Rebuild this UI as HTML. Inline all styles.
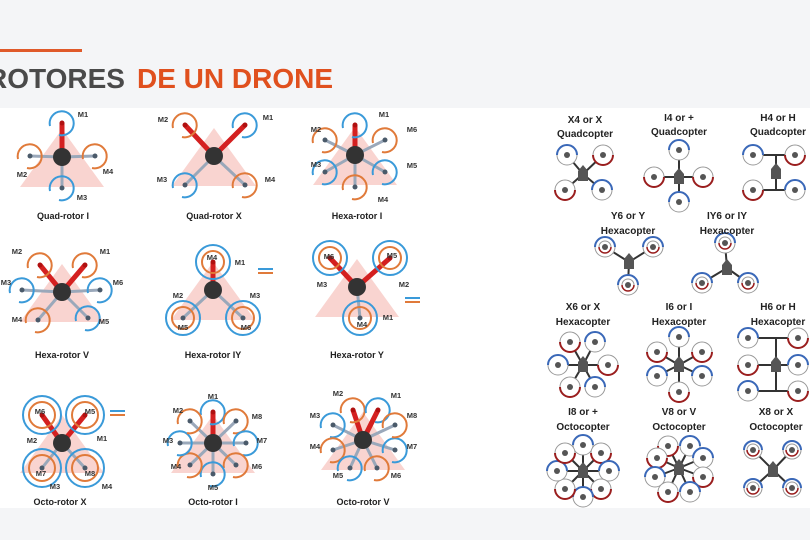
<!DOCTYPE html>
<html><head><meta charset="utf-8"><style>
body{margin:0;width:810px;height:540px;overflow:hidden;background:#fff;font-family:"Liberation Sans",Arial,sans-serif}
svg{display:block}
.lb{font:bold 9px "Liberation Sans",sans-serif;fill:#222;text-anchor:middle}
.m{font:bold 7.5px "Liberation Sans",sans-serif;fill:#333;text-anchor:middle}
.rt{font:bold 10px "Liberation Sans",sans-serif;fill:#222;text-anchor:middle}
</style></head><body>
<svg id="s" width="810" height="540" viewBox="0 0 810 540">
<rect x="0" y="0" width="810" height="108" fill="#f4f5f7"/>
<rect x="0" y="508" width="810" height="32" fill="#f4f5f7"/>
<rect x="0" y="49" width="82" height="3" fill="#e05a2a"/>
<text x="-13" y="88" style="font:bold 28px 'Liberation Sans',sans-serif;fill:#4a4a4a">ROTORES</text>
<text x="137" y="88" style="font:bold 28px 'Liberation Sans',sans-serif;fill:#e0501e">DE UN DRONE</text>
<g id="g"></g>
<text class="lb" x="63" y="219">Quad-rotor I</text>
<text class="lb" x="214" y="219">Quad-rotor X</text>
<text class="lb" x="357" y="219">Hexa-rotor I</text>
<text class="lb" x="62" y="358">Hexa-rotor V</text>
<text class="lb" x="213" y="358">Hexa-rotor IY</text>
<text class="lb" x="357" y="358">Hexa-rotor Y</text>
<text class="lb" x="60" y="505">Octo-rotor X</text>
<text class="lb" x="213" y="505">Octo-rotor I</text>
<text class="lb" x="363" y="505">Octo-rotor V</text>
<g class="m">
<text x="83" y="117">M1</text><text x="22" y="177">M2</text><text x="108" y="174">M4</text><text x="82" y="200">M3</text>
<text x="163" y="122">M2</text><text x="268" y="120">M1</text><text x="162" y="182">M3</text><text x="270" y="182">M4</text>
<text x="384" y="117">M1</text><text x="412" y="132">M6</text><text x="412" y="168">M5</text><text x="383" y="202">M4</text><text x="316" y="167">M3</text><text x="316" y="132">M2</text>
<text x="17" y="254">M2</text><text x="105" y="254">M1</text><text x="118" y="285">M6</text><text x="104" y="324">M5</text><text x="17" y="322">M4</text><text x="6" y="285">M3</text>
<text x="212" y="260">M4</text><text x="240" y="265">M1</text><text x="178" y="298">M2</text><text x="255" y="298">M3</text><text x="183" y="330">M5</text><text x="246" y="330">M6</text>
<text x="329" y="259">M6</text><text x="392" y="258">M5</text><text x="322" y="287">M3</text><text x="404" y="287">M2</text><text x="388" y="320">M1</text><text x="362" y="327">M4</text>
<text x="40" y="414">M6</text><text x="90" y="414">M5</text><text x="32" y="443">M2</text><text x="102" y="441">M1</text><text x="41" y="476">M7</text><text x="90" y="476">M8</text><text x="55" y="489">M3</text><text x="107" y="489">M4</text>
<text x="213" y="399">M1</text><text x="178" y="413">M2</text><text x="257" y="419">M8</text><text x="168" y="443">M3</text><text x="262" y="443">M7</text><text x="176" y="469">M4</text><text x="257" y="469">M6</text><text x="213" y="490">M5</text>
<text x="338" y="396">M2</text><text x="396" y="398">M1</text><text x="315" y="418">M3</text><text x="315" y="449">M4</text><text x="338" y="478">M5</text><text x="396" y="478">M6</text><text x="412" y="449">M7</text><text x="412" y="418">M8</text>
</g>
<g class="rt">
<text x="585" y="123">X4 or X</text><text x="585" y="137">Quadcopter</text>
<text x="679" y="121">I4 or +</text><text x="679" y="135">Quadcopter</text>
<text x="778" y="121">H4 or H</text><text x="778" y="135">Quadcopter</text>
<text x="628" y="219">Y6 or Y</text><text x="628" y="234">Hexacopter</text>
<text x="727" y="219">IY6 or IY</text><text x="727" y="234">Hexacopter</text>
<text x="583" y="310">X6 or X</text><text x="583" y="325">Hexacopter</text>
<text x="679" y="310">I6 or I</text><text x="679" y="325">Hexacopter</text>
<text x="778" y="310">H6 or H</text><text x="778" y="325">Hexacopter</text>
<text x="583" y="415">I8 or +</text><text x="583" y="430">Octocopter</text>
<text x="679" y="415">V8 or V</text><text x="679" y="430">Octocopter</text>
<text x="776" y="415">X8 or X</text><text x="776" y="430">Octocopter</text>
</g>
</svg>
<script>
var g=document.getElementById('g'),h='';
var B='#3a9ad9',O='#e07a3a';
function L(cx,cy,rs,tri){
 h+='<polygon points="'+cx+','+(cy-28)+' '+(cx-42)+','+(cy+30)+' '+(cx+42)+','+(cy+30)+'" fill="#f7c6c0" opacity=".75"/>';
 rs.forEach(function(r){h+='<line x1="'+cx+'" y1="'+cy+'" x2="'+r[0]+'" y2="'+r[1]+'" stroke="'+(r[3]?'#d42020':'#9aa8ba')+'" stroke-width="'+(r[3]?5:3)+'"/>';});
 rs.forEach(function(r){var rr=r[4]||12;
  if(r[2]=='c'){h+='<circle cx="'+r[0]+'" cy="'+r[1]+'" r="'+(rr+5)+'" fill="none" stroke="'+B+'" stroke-width="2"/><circle cx="'+r[0]+'" cy="'+r[1]+'" r="'+(rr-1)+'" fill="none" stroke="'+O+'" stroke-width="2"/>';}
  else h+='<path d="M'+(r[0]-rr)+','+(r[1]+3)+' A'+rr+','+rr+' 0 1 1 '+(r[0]-3)+','+(r[1]+rr)+'" fill="none" stroke="'+r[2]+'" stroke-width="2"/>';
  h+='<circle cx="'+r[0]+'" cy="'+r[1]+'" r="2.5" fill="'+(r[3]?'#b01010':'#4a5a6a')+'"/>';});
 h+='<circle cx="'+cx+'" cy="'+cy+'" r="9" fill="#333"/>';
}
L(62,157,[[62,123,B,1],[30,156,O],[95,156,O],[62,188,B]]);
L(214,156,[[185,125,O,1],[245,125,B,1],[185,185,B],[245,185,O]]);
L(355,155,[[355,125,B,1],[385,140,O],[385,172,B],[355,187,O],[325,172,B],[325,140,O]]);
L(62,292,[[40,265,O,1],[85,265,O,1],[100,290,B],[88,318,B],[38,320,O],[22,290,B]],0);
L(213,290,[[213,262,'c',1],[183,318,'c'],[243,318,'c']]);
L(357,287,[[330,258,'c',1],[390,258,'c',1],[360,318,'c']]);
L(62,443,[[42,415,'c',1,14],[85,415,'c',1,14],[42,468,'c',0,14],[85,468,'c',0,14]]);
var o=[];for(var i=0;i<8;i++){var a=-Math.PI/2+i*Math.PI/4;o.push([Math.round(213+33*Math.cos(a)),Math.round(443+31*Math.sin(a)),i%2?O:B,i==0]);}
L(213,443,o);
L(363,440,[[353,410,O,1],[378,410,B,1],[333,425,B],[333,450,O],[350,468,B],[377,468,O],[395,450,B],[395,425,O]]);
h+='<g stroke-width="2"><line x1="258" y1="269" x2="273" y2="269" stroke="'+B+'"/><line x1="258" y1="273" x2="273" y2="273" stroke="'+O+'"/><line x1="405" y1="298" x2="420" y2="298" stroke="'+B+'"/><line x1="405" y1="302" x2="420" y2="302" stroke="'+O+'"/><line x1="110" y1="411" x2="125" y2="411" stroke="'+B+'"/><line x1="110" y1="415" x2="125" y2="415" stroke="'+O+'"/></g>';
var RB='#3a68b8',RR='#9a1e1e';
function R(cx,cy,rs,lines){
 (lines||rs.map(function(r){return [cx,cy,r[0],r[1]]})).forEach(function(l){h+='<line x1="'+l[0]+'" y1="'+l[1]+'" x2="'+l[2]+'" y2="'+l[3]+'" stroke="#333" stroke-width="2"/>';});
 rs.forEach(function(r){var x=r[0],y=r[1],c=r[2]=='b'?RB:RR,rr=r[3]||10;
  h+='<circle cx="'+x+'" cy="'+y+'" r="'+rr+'" fill="#fff" stroke="#999" stroke-width="1"/>';
  if(r[2]=='b')h+='<path d="M'+(x-rr)+','+y+' A'+rr+','+rr+' 0 0 1 '+(x+rr)+','+y+'" fill="none" stroke="'+c+'" stroke-width="2"/>';
  else h+='<path d="M'+(x-rr)+','+y+' A'+rr+','+rr+' 0 0 0 '+(x+rr)+','+y+'" fill="none" stroke="'+c+'" stroke-width="2"/>';
  if(r[4]){h+='<circle cx="'+x+'" cy="'+y+'" r="6" fill="none" stroke="#999"/><path d="M'+(x-6)+','+y+' A6,6 0 0 0 '+(x+6)+','+y+'" fill="none" stroke="'+RR+'" stroke-width="1.5"/>';}
  h+='<circle cx="'+x+'" cy="'+y+'" r="3" fill="#555"/>';});
 h+='<path d="M'+(cx-5)+','+(cy-3)+' L'+cx+','+(cy-9)+' L'+(cx+5)+','+(cy-3)+' L'+(cx+5)+','+(cy+7)+' L'+(cx-5)+','+(cy+7)+'Z" fill="#555"/>';
}
R(583,174,[[567,155,'b'],[603,155,'r'],[565,190,'r'],[602,190,'b']]);
R(679,177,[[679,150,'b'],[654,177,'r'],[703,177,'r'],[679,202,'b']]);
R(776,172,[[753,155,'b'],[795,155,'r'],[753,190,'r'],[795,190,'b']],[[753,155,795,155],[753,190,795,190],[776,155,776,190]]);
R(629,262,[[605,247,'b',10,1],[653,247,'b',10,1],[628,285,'b',10,1]]);
R(727,268,[[725,243,'b',10,1],[702,283,'b',10,1],[748,283,'b',10,1]]);
R(583,365,[[570,342,'r'],[595,342,'b'],[558,365,'b'],[608,365,'r'],[570,387,'r'],[595,387,'b']]);
R(679,365,[[679,337,'b'],[657,352,'r'],[702,352,'r'],[657,376,'b'],[702,376,'b'],[679,392,'r']]);
R(776,365,[[748,338,'b'],[798,338,'r'],[748,365,'r'],[798,365,'b'],[748,391,'b'],[798,391,'r']],[[748,338,798,338],[748,365,798,365],[748,391,798,391],[776,338,776,391]]);
var p=[];for(i=0;i<8;i++){a=-Math.PI/2+i*Math.PI/4;p.push([Math.round(583+26*Math.cos(a)),Math.round(471+26*Math.sin(a)),i%2?'r':'b']);}
R(583,471,p);
R(679,468,[[668,446,'r'],[690,446,'b'],[657,458,'r'],[703,458,'b'],[655,477,'b'],[703,477,'r'],[668,492,'r'],[690,492,'b']]);
R(773,470,[[753,450,'b',9,1],[792,450,'b',9,1],[753,488,'b',9,1],[792,488,'b',9,1]]);
g.innerHTML=h;
</script>
</body></html>
